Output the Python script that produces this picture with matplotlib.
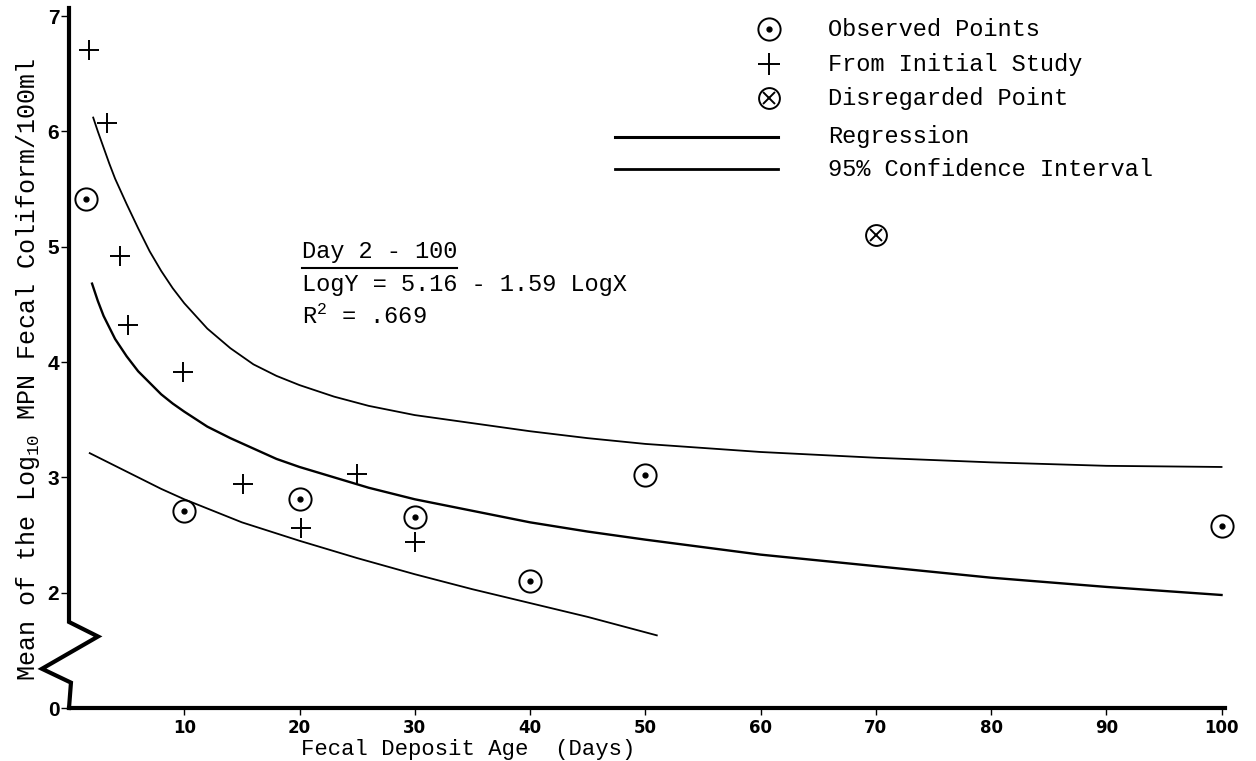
import matplotlib
matplotlib.use('Agg')
import matplotlib.pyplot as plt
from matplotlib.lines import Line2D
from matplotlib.transforms import blended_transform_factory

plt.rcParams['font.family'] = ['Liberation Mono', 'DejaVu Sans']
plt.rcParams['mathtext.fontset'] = 'custom'
plt.rcParams['mathtext.rm'] = 'Liberation Mono'
plt.rcParams['mathtext.it'] = 'Liberation Mono'

# observed points
obs_x = [1.5, 10, 20, 30, 40, 50, 100]
obs_y = [5.41, 2.71, 2.81, 2.66, 2.10, 3.02, 2.58]

# from initial study
init_x = [1.7, 3.3, 4.4, 5.1, 9.9, 15.1, 20.1, 25, 30]
init_y = [6.71, 6.07, 4.92, 4.32, 3.91, 2.94, 2.56, 3.03, 2.44]

# disregarded point
dis_x = [70]
dis_y = [5.10]

# regression curve
reg_x = [2, 2.5, 3, 3.5, 4, 5, 6, 7, 8, 9, 10, 12, 14, 16, 18, 20, 23, 26, 30,
         35, 40, 45, 50, 60, 70, 80, 90, 100]
reg_y = [4.68, 4.53, 4.40, 4.30, 4.20, 4.05, 3.92, 3.82, 3.72, 3.64, 3.57, 3.44,
         3.34, 3.25, 3.16, 3.09, 3.00, 2.91, 2.81, 2.71, 2.61, 2.53, 2.46, 2.33,
         2.23, 2.13, 2.05, 1.98]

# 95% confidence band
up_x = [2.1, 2.5, 3, 3.5, 4, 5, 6, 7, 8, 9, 10, 12, 14, 16, 18, 20, 23, 26, 30,
        35, 40, 45, 50, 60, 70, 80, 90, 100]
up_y = [6.12, 6.00, 5.86, 5.72, 5.59, 5.37, 5.16, 4.96, 4.79, 4.64, 4.51, 4.29,
        4.12, 3.98, 3.88, 3.80, 3.70, 3.62, 3.54, 3.47, 3.40, 3.34, 3.29, 3.22,
        3.17, 3.13, 3.10, 3.09]
lo_x = [1.8, 3, 4, 5, 6, 7, 8, 10, 12, 15, 20, 25, 30, 35, 40, 45, 51]
lo_y = [3.21, 3.15, 3.10, 3.05, 3.00, 2.95, 2.90, 2.81, 2.73, 2.61, 2.45, 2.30,
        2.16, 2.03, 1.91, 1.79, 1.63]

x_ticks = [10, 20, 30, 40, 50, 60, 70, 80, 90, 100]
y_ticks = [1.0, 2, 3, 4, 5, 6, 7]
y_tick_labels = ['0', '2', '3', '4', '5', '6', '7']

W, H = 1256, 761
fig = plt.figure(figsize=(W / 100, H / 100), dpi=100)
ax = fig.add_axes([69 / W, 53 / H, 1156 / W, 700 / H])


def fx(px):
    return px / W


def fy(py):
    return 1 - py / H


# curves
ax.plot(reg_x, reg_y, color='black', lw=1.7)
ax.plot(up_x, up_y, color='black', lw=1.3)
ax.plot(lo_x, lo_y, color='black', lw=1.3)

# markers
ax.plot(obs_x, obs_y, 'o', ms=16, mfc='none', mec='black', mew=1.4, clip_on=False)
ax.plot(obs_x, obs_y, 'o', ms=3.5, color='black', clip_on=False)
ax.plot(init_x, init_y, '+', ms=15, mew=1.4, color='black', clip_on=False)
ax.plot(dis_x, dis_y, 'o', ms=15, mfc='none', mec='black', mew=1.4)
ax.plot(dis_x, dis_y, 'x', ms=9, mew=1.4, color='black')

ax.set_xlim(0, 100.3)
ax.set_ylim(1.0, 7.07)

# axes styling
for s in ['top', 'right', 'left']:
    ax.spines[s].set_visible(False)
ax.spines['bottom'].set_linewidth(3)

ax.set_xticks(x_ticks)
ax.set_xticklabels([str(t) for t in x_ticks], family=['Liberation Sans Narrow', 'DejaVu Sans'],
                   fontsize=12, fontweight='bold')
ax.set_yticks(y_ticks)
ax.set_yticklabels(y_tick_labels, family=['Liberation Sans', 'DejaVu Sans'],
                   fontsize=15, fontweight='bold')
ax.tick_params(axis='x', length=5, width=1, pad=3)
ax.tick_params(axis='y', length=6, width=1, pad=1)

# left axis with break
bt = blended_transform_factory(ax.transAxes, ax.transData)
brk_x = [0, 0, 0.0251, -0.0234, 0.0017, 0]
brk_y = [7.07, 1.746, 1.62, 1.34, 1.22, 1.0]
ax.add_line(Line2D(brk_x, brk_y, transform=bt, color='black', lw=3,
                   clip_on=False, solid_joinstyle='miter'))

# labels
fig.text(fx(468), fy(750), 'Fecal Deposit Age  (Days)', fontsize=16,
         ha='center', va='center')
fig.text(fx(28), fy(370), 'Mean of the Log$_{10}$ MPN Fecal Coliform/100ml',
         rotation=90, ha='center', va='center', fontsize=18)

# annotation
ax.text(20.25, 4.955, 'Day 2 - 100', fontsize=17, va='center', ha='left')
fig.add_artist(Line2D([fx(302), fx(457)], [fy(268), fy(268)], color='black', lw=1.5))
ax.text(20.25, 4.67, 'LogY = 5.16 - 1.59 LogX', fontsize=17, va='center', ha='left')
ax.text(20.25, 4.39, 'R$^2$ = .669', fontsize=17, va='center', ha='left')

# legend drawn by hand
sym_x = fx(769)
rows = [29, 64, 98, 137, 169]
fig.add_artist(Line2D([sym_x], [fy(rows[0])], marker='o', ms=16, mfc='none', mec='black', mew=1.4))
fig.add_artist(Line2D([sym_x], [fy(rows[0])], marker='o', ms=3.5, color='black'))
fig.add_artist(Line2D([sym_x], [fy(rows[1])], marker='+', ms=16, mew=1.4, color='black'))
fig.add_artist(Line2D([sym_x], [fy(rows[2])], marker='o', ms=15, mfc='none', mec='black', mew=1.4))
fig.add_artist(Line2D([sym_x], [fy(rows[2])], marker='x', ms=9, mew=1.4, color='black'))
fig.add_artist(Line2D([fx(615), fx(778)], [fy(rows[3])] * 2, color='black', lw=2.2))
fig.add_artist(Line2D([fx(615), fx(778)], [fy(rows[4])] * 2, color='black', lw=2.0))
labels = ['Observed Points', 'From Initial Study', 'Disregarded Point',
          'Regression', '95% Confidence Interval']
for r, lab in zip(rows, labels):
    fig.text(fx(828), fy(r), lab, fontsize=17, va='center', ha='left')

fig.savefig('out.png', dpi=100)
